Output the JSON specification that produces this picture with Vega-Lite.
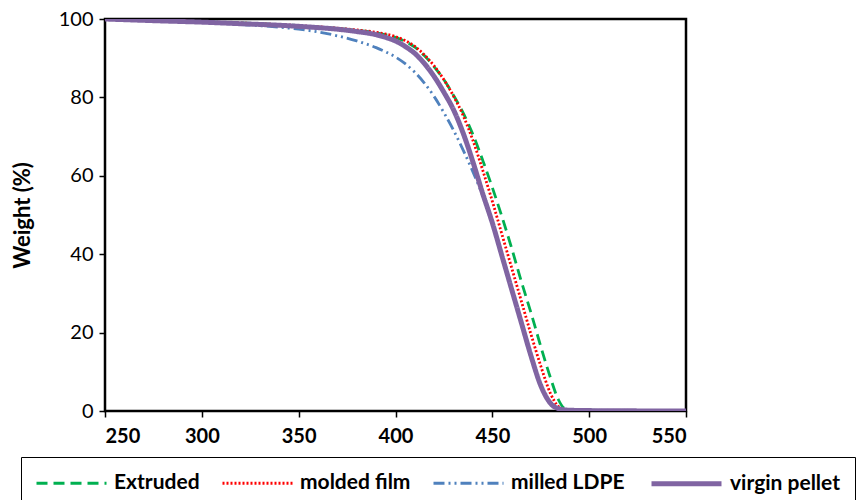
{
  "$schema": "https://vega.github.io/schema/vega-lite/v6.json",
  "width": 581,
  "height": 392,
  "autosize": {"type": "none"},
  "padding": {"left": 105, "top": 19, "right": 170, "bottom": 89},
  "background": "white",
  "config": {
    "font": "Lato",
    "view": {"stroke": "black", "strokeWidth": 2.5},
    "axis": {"grid": false, "domain": false, "tickColor": "black", "tickSize": 6, "tickWidth": 1.5, "labelColor": "black", "labelFont": "Lato", "titleFont": "Lato", "titleColor": "black"}
  },
  "datasets": {
    "curves": [
      {"T": 250, "W": 100, "s": "Extruded"}, {"T": 300, "W": 99.3, "s": "Extruded"}, {"T": 350, "W": 98.3, "s": "Extruded"}, {"T": 380, "W": 97.1, "s": "Extruded"}, {"T": 390, "W": 96.5, "s": "Extruded"}, {"T": 400, "W": 95.3, "s": "Extruded"}, {"T": 405, "W": 94.3, "s": "Extruded"}, {"T": 410, "W": 92.8, "s": "Extruded"}, {"T": 415, "W": 90.6, "s": "Extruded"}, {"T": 420, "W": 87.8, "s": "Extruded"}, {"T": 425, "W": 84.5, "s": "Extruded"}, {"T": 430, "W": 80.5, "s": "Extruded"}, {"T": 435, "W": 76, "s": "Extruded"}, {"T": 440, "W": 70.5, "s": "Extruded"}, {"T": 445, "W": 64, "s": "Extruded"}, {"T": 450, "W": 57, "s": "Extruded"}, {"T": 455, "W": 49.5, "s": "Extruded"}, {"T": 460, "W": 41.5, "s": "Extruded"}, {"T": 465, "W": 33, "s": "Extruded"}, {"T": 470, "W": 25, "s": "Extruded"}, {"T": 475, "W": 16.5, "s": "Extruded"}, {"T": 480, "W": 8.5, "s": "Extruded"}, {"T": 484, "W": 3, "s": "Extruded"}, {"T": 487, "W": 0.8, "s": "Extruded"}, {"T": 490, "W": 0.4, "s": "Extruded"}, {"T": 500, "W": 0.2, "s": "Extruded"}, {"T": 550, "W": 0, "s": "Extruded"},
      {"T": 250, "W": 100, "s": "molded film"}, {"T": 300, "W": 99.3, "s": "molded film"}, {"T": 350, "W": 98.3, "s": "molded film"}, {"T": 380, "W": 97.2, "s": "molded film"}, {"T": 390, "W": 96.6, "s": "molded film"}, {"T": 400, "W": 95.5, "s": "molded film"}, {"T": 405, "W": 94.5, "s": "molded film"}, {"T": 410, "W": 93, "s": "molded film"}, {"T": 415, "W": 90.8, "s": "molded film"}, {"T": 420, "W": 88, "s": "molded film"}, {"T": 425, "W": 84.5, "s": "molded film"}, {"T": 430, "W": 80.3, "s": "molded film"}, {"T": 435, "W": 75.3, "s": "molded film"}, {"T": 440, "W": 69, "s": "molded film"}, {"T": 445, "W": 61.5, "s": "molded film"}, {"T": 450, "W": 53.5, "s": "molded film"}, {"T": 455, "W": 45, "s": "molded film"}, {"T": 460, "W": 36.5, "s": "molded film"}, {"T": 465, "W": 28, "s": "molded film"}, {"T": 470, "W": 19.5, "s": "molded film"}, {"T": 475, "W": 11.5, "s": "molded film"}, {"T": 480, "W": 4.5, "s": "molded film"}, {"T": 484, "W": 1.2, "s": "molded film"}, {"T": 488, "W": 0.3, "s": "molded film"}, {"T": 500, "W": 0.1, "s": "molded film"}, {"T": 550, "W": 0, "s": "molded film"},
      {"T": 250, "W": 100, "s": "milled LDPE"}, {"T": 300, "W": 99.2, "s": "milled LDPE"}, {"T": 320, "W": 98.6, "s": "milled LDPE"}, {"T": 340, "W": 97.9, "s": "milled LDPE"}, {"T": 350, "W": 97.4, "s": "milled LDPE"}, {"T": 360, "W": 96.7, "s": "milled LDPE"}, {"T": 370, "W": 95.7, "s": "milled LDPE"}, {"T": 380, "W": 94.4, "s": "milled LDPE"}, {"T": 390, "W": 92.7, "s": "milled LDPE"}, {"T": 395, "W": 91.6, "s": "milled LDPE"}, {"T": 400, "W": 90.3, "s": "milled LDPE"}, {"T": 405, "W": 88.6, "s": "milled LDPE"}, {"T": 410, "W": 86.4, "s": "milled LDPE"}, {"T": 415, "W": 83.6, "s": "milled LDPE"}, {"T": 420, "W": 80.2, "s": "milled LDPE"}, {"T": 425, "W": 76.1, "s": "milled LDPE"}, {"T": 430, "W": 71.6, "s": "milled LDPE"}, {"T": 435, "W": 66.5, "s": "milled LDPE"}, {"T": 440, "W": 61, "s": "milled LDPE"}, {"T": 445, "W": 55, "s": "milled LDPE"}, {"T": 450, "W": 48, "s": "milled LDPE"}, {"T": 455, "W": 39.5, "s": "milled LDPE"}, {"T": 460, "W": 31, "s": "milled LDPE"}, {"T": 465, "W": 22.5, "s": "milled LDPE"}, {"T": 470, "W": 14, "s": "milled LDPE"}, {"T": 475, "W": 6.5, "s": "milled LDPE"}, {"T": 480, "W": 2, "s": "milled LDPE"}, {"T": 485, "W": 0.5, "s": "milled LDPE"}, {"T": 490, "W": 0.2, "s": "milled LDPE"}, {"T": 500, "W": 0.1, "s": "milled LDPE"}, {"T": 550, "W": 0, "s": "milled LDPE"},
      {"T": 250, "W": 100, "s": "virgin pellet"}, {"T": 280, "W": 99.5, "s": "virgin pellet"}, {"T": 300, "W": 99.2, "s": "virgin pellet"}, {"T": 320, "W": 98.8, "s": "virgin pellet"}, {"T": 340, "W": 98.4, "s": "virgin pellet"}, {"T": 360, "W": 97.8, "s": "virgin pellet"}, {"T": 370, "W": 97.4, "s": "virgin pellet"}, {"T": 380, "W": 96.8, "s": "virgin pellet"}, {"T": 390, "W": 96, "s": "virgin pellet"}, {"T": 395, "W": 95.3, "s": "virgin pellet"}, {"T": 400, "W": 94.4, "s": "virgin pellet"}, {"T": 405, "W": 93, "s": "virgin pellet"}, {"T": 410, "W": 91.2, "s": "virgin pellet"}, {"T": 415, "W": 88.6, "s": "virgin pellet"}, {"T": 420, "W": 85.3, "s": "virgin pellet"}, {"T": 425, "W": 81.3, "s": "virgin pellet"}, {"T": 430, "W": 76.8, "s": "virgin pellet"}, {"T": 435, "W": 70.8, "s": "virgin pellet"}, {"T": 440, "W": 63.5, "s": "virgin pellet"}, {"T": 445, "W": 55.5, "s": "virgin pellet"}, {"T": 450, "W": 48, "s": "virgin pellet"}, {"T": 455, "W": 39.5, "s": "virgin pellet"}, {"T": 460, "W": 31, "s": "virgin pellet"}, {"T": 465, "W": 22.5, "s": "virgin pellet"}, {"T": 470, "W": 14, "s": "virgin pellet"}, {"T": 475, "W": 6.5, "s": "virgin pellet"}, {"T": 480, "W": 2, "s": "virgin pellet"}, {"T": 485, "W": 0.5, "s": "virgin pellet"}, {"T": 490, "W": 0.2, "s": "virgin pellet"}, {"T": 500, "W": 0.1, "s": "virgin pellet"}, {"T": 550, "W": 0, "s": "virgin pellet"}
    ]
  },
  "data": {"name": "curves"},
  "mark": {"type": "line", "interpolate": "monotone", "clip": true},
  "encoding": {
    "x": {"field": "T", "type": "quantitative", "scale": {"domain": [250, 550], "nice": false, "zero": false},
      "axis": {"values": [250, 300, 350, 400, 450, 500, 550], "title": null, "labelFontSize": 20, "labelFontWeight": "bold", "labelPadding": 9}},
    "y": {"field": "W", "type": "quantitative", "scale": {"domain": [0, 100], "nice": false},
      "axis": {"values": [0, 20, 40, 60, 80, 100], "title": "Weight (%)", "titleFontSize": 22, "titleFontWeight": "bold", "titlePadding": 24, "labelFontSize": 20, "labelFontWeight": "normal", "labelPadding": 6}},
    "color": {"field": "s", "type": "nominal",
      "scale": {"domain": ["Extruded", "molded film", "milled LDPE", "virgin pellet"], "range": ["#00B050", "#FF0000", "#4F81BD", "#8064A2"]},
      "legend": {"title": null, "orient": "none", "legendX": -84, "legendY": 438, "direction": "horizontal", "symbolType": "M-1,0H6", "symbolSize": 400, "labelFontSize": 21, "labelFontWeight": "bold", "labelColor": "black", "strokeColor": "black", "padding": 14, "columnPadding": 16, "labelOffset": 56, "symbolOpacity": 1}},
    "strokeDash": {"field": "s", "type": "nominal",
      "scale": {"domain": ["Extruded", "molded film", "milled LDPE", "virgin pellet"], "range": [[11, 6], [2, 2], [11, 4, 2, 4, 2, 4], [1, 0]]}},
    "strokeWidth": {"field": "s", "type": "ordinal",
      "scale": {"type": "ordinal", "domain": ["Extruded", "molded film", "milled LDPE", "virgin pellet"], "range": [2.8, 2.8, 2.8, 5]}},
    "order": {"field": "s", "sort": "ascending"}
  }
}
